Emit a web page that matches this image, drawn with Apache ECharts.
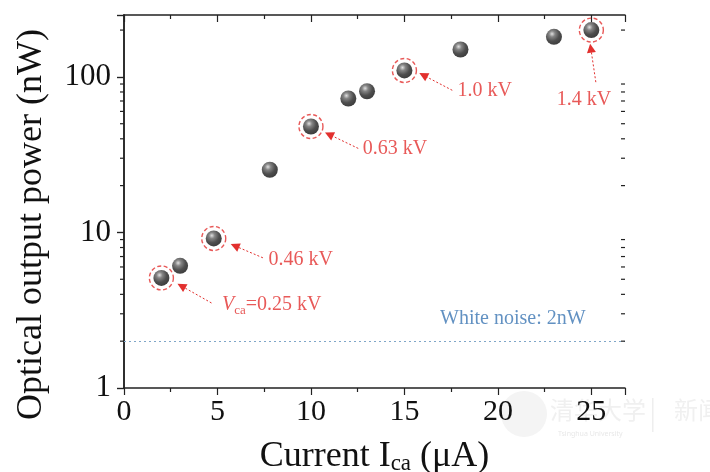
<!DOCTYPE html>
<html>
<head>
<meta charset="utf-8">
<script src="https://cdn.jsdelivr.net/npm/echarts@6/dist/echarts.min.js"></script>
<style>html,body{margin:0;padding:0;background:#fff}#c{width:710px;height:472px}</style>
</head>
<body>
<div id="c"></div>
<script>
// ---- data ----
const currentUA = [2, 3, 4.8, 7.8, 10, 12, 13, 15, 18, 23, 25];
const powerNW = [5.1, 6.1, 9.15, 25.3, 48, 72.6, 80.9, 110, 150, 181, 200];
const highlightedIdx = [0, 2, 4, 7, 10];
const annotLabels = ['{v|V}{s|ca}{t|=0.25 kV}', '0.46 kV', '0.63 kV', '1.0 kV', '1.4 kV'];
const annotTextAt = [[7.9, 3.37], [9.45, 6.67], [14.5, 34.7], [19.3, 80.9], [24.6, 71.8]];
const arrowFrom = [[4.68, 3.52], [7.43, 6.87], [12.53, 34.7], [17.56, 82], [25.24, 92.5]];
const arrowTo = [[3.07, 4.53], [5.93, 8.2], [10.97, 42.7], [16.01, 102.6], [24.97, 153]];
const noiseLevel = 2;
const noiseLabel = 'White noise: 2nW';
const noiseLabelAt = [20.8, 2.77];
const xMin = 0, xMax = 26.8, xInterval = 5;
const yMin = 1, yMax = 250;
const yMinorTicks = [2, 3, 4, 5, 6, 7, 8, 9, 20, 30, 40, 50, 60, 70, 80, 90, 200];
const yTickLabels = [1, 10, 100];
const xTickLabels = [0, 5, 10, 15, 20, 25];

const SERIF = '"Liberation Serif", "DejaVu Serif", serif';
const RED = '#e2302e';
const AX = '#222';

const chart = echarts.init(document.getElementById('c'), null, {renderer: 'canvas'});

const axisLineStyle = {show: true, lineStyle: {color: AX, width: 1.5}};

const watermark = [
  {type: 'circle', shape: {cx: 524, cy: 414, r: 23}, style: {fill: '#f4f4f4'}, silent: true, z: -1},
  {type: 'text', x: 550, y: 398, style: {text: '清华大学', font: '24px "Noto Sans CJK SC"', fill: '#f0f0f0'}, silent: true, z: -1},
  {type: 'text', x: 558, y: 430, style: {text: 'Tsinghua University', font: '7px "Noto Sans"', fill: '#e8e8e8'}, silent: true, z: -1},
  {type: 'rect', shape: {x: 652, y: 398, width: 1.5, height: 34}, style: {fill: '#eeeeee'}, silent: true, z: -1},
  {type: 'text', x: 674, y: 398, style: {text: '新闻', font: '24px "Noto Sans CJK SC"', fill: '#f0f0f0'}, silent: true, z: -1}
];

const option = {
  animation: false,
  backgroundColor: '#fff',
  grid: {left: 124, right: 85, top: 15, bottom: 84, containLabel: false, outerBoundsMode: 'none'},
  xAxis: [
    {
      type: 'value', position: 'bottom', min: xMin, max: xMax, interval: xInterval,
      axisLine: axisLineStyle,
      axisTick: {show: true, inside: false, length: 7, lineStyle: {color: AX, width: 1.2}},
      minorTick: {show: true, splitNumber: 2, length: 4, lineStyle: {color: AX, width: 1.2}},
      splitLine: {show: false},
      axisLabel: {
        fontFamily: SERIF, fontSize: 30, color: '#111', margin: 9,
        formatter: v => xTickLabels.indexOf(v) >= 0 ? String(v) : ''
      },
      name: '{a|Current I}{s|ca}{a| (μA)}', nameLocation: 'middle', nameGap: 51,
      nameTextStyle: {
        rich: {
          a: {fontFamily: SERIF, fontSize: 36, color: '#111', verticalAlign: 'bottom'},
          s: {fontFamily: SERIF, fontSize: 23, color: '#111', verticalAlign: 'bottom'}
        }
      }
    },
    {
      type: 'value', position: 'top', min: xMin, max: xMax, interval: xInterval,
      axisLine: axisLineStyle,
      axisTick: {show: true, inside: true, length: 7, lineStyle: {color: AX, width: 1.2}},
      minorTick: {show: true, splitNumber: 2, length: 4, lineStyle: {color: AX, width: 1.2}},
      splitLine: {show: false}, axisLabel: {show: false}
    }
  ],
  yAxis: [
    {
      type: 'log', logBase: 10, position: 'left', min: yMin, max: yMax,
      axisLine: axisLineStyle,
      axisTick: {show: true, inside: false, length: 7, lineStyle: {color: AX, width: 1.2}},
      splitLine: {show: false},
      axisLabel: {
        fontFamily: SERIF, fontSize: 31, color: '#111', margin: 13,
        formatter: v => yTickLabels.indexOf(Math.round(v)) >= 0 && Math.abs(v - Math.round(v)) < 1e-6 ? String(Math.round(v)) : ''
      },
      name: 'Optical output power (nW)', nameLocation: 'middle', nameGap: 74,
      nameTextStyle: {fontFamily: SERIF, fontSize: 36, color: '#111', padding: [0, 46, 0, 0]}
    },
    {
      type: 'log', logBase: 10, position: 'right', min: yMin, max: yMax,
      axisLine: axisLineStyle,
      axisTick: {show: true, inside: true, length: 7, lineStyle: {color: AX, width: 1.2}},
      splitLine: {show: false}, axisLabel: {show: false}
    }
  ],
  graphic: watermark,
  series: [
    {
      name: 'noise', type: 'line', data: [], silent: true,
      markLine: {
        silent: true, symbol: ['none', 'none'], label: {show: false},
        lineStyle: {color: '#7fa6c8', type: [2, 3], width: 1},
        data: [{yAxis: noiseLevel}]
      }
    },
    {
      name: 'noiseLabel', type: 'scatter', symbolSize: 0, silent: true,
      data: [{value: noiseLabelAt}],
      label: {show: true, position: 'inside', formatter: noiseLabel, fontFamily: SERIF, fontSize: 20, color: '#3b76b3'}
    },
    {
      name: 'highlight', type: 'scatter', symbol: 'circle', symbolSize: 24, silent: true,
      data: highlightedIdx.map(i => [currentUA[i], powerNW[i]]),
      itemStyle: {color: 'rgba(0,0,0,0)', borderColor: RED, borderWidth: 1.4, borderType: [4, 2.5]}
    },
    {
      name: 'power', type: 'scatter', symbol: 'circle', symbolSize: 16, z: 5,
      data: currentUA.map((x, i) => [x, powerNW[i]]),
      itemStyle: {
        color: {type: 'radial', x: 0.38, y: 0.32, r: 0.75, colorStops: [
          {offset: 0, color: '#d8d8d8'}, {offset: 0.25, color: '#666'}, {offset: 0.6, color: '#222'}, {offset: 1, color: '#080808'}
        ]}
      }
    },
    {
      name: 'annotations', type: 'scatter', symbolSize: 0, silent: true,
      data: annotTextAt.map((p, i) => ({value: p, label: {formatter: annotLabels[i]}})),
      label: {
        show: true, position: 'inside', fontFamily: SERIF, fontSize: 20, color: RED,
        rich: {
          v: {fontFamily: SERIF, fontSize: 20, color: RED, fontStyle: 'italic', verticalAlign: 'top'},
          s: {fontFamily: SERIF, fontSize: 13, color: RED, verticalAlign: 'top', padding: [10, 0, 0, 0]},
          t: {fontFamily: SERIF, fontSize: 20, color: RED, verticalAlign: 'top'}
        }
      },
      markLine: {
        silent: true, symbol: ['none', 'triangle'], symbolSize: 9, label: {show: false},
        lineStyle: {color: RED, type: [2, 2], width: 1},
        data: arrowFrom.map((p, i) => [{coord: p}, {coord: arrowTo[i]}])
      }
    }
  ]
};
chart.setOption(option);

// log-axis minor ticks (2..9 per decade), placed through the axis scale
const xL = chart.convertToPixel({xAxisIndex: 0}, xMin);
const xR = chart.convertToPixel({xAxisIndex: 0}, xMax);
const minorLines = [];
yMinorTicks.forEach(v => {
  const y = chart.convertToPixel({yAxisIndex: 0}, v);
  minorLines.push({type: 'line', silent: true, z: 10, shape: {x1: xL - 4, y1: y, x2: xL, y2: y}, style: {stroke: AX, lineWidth: 1.2}});
  minorLines.push({type: 'line', silent: true, z: 10, shape: {x1: xR - 4, y1: y, x2: xR, y2: y}, style: {stroke: AX, lineWidth: 1.2}});
});
chart.setOption({graphic: watermark.concat(minorLines)});
</script>
</body>
</html>
